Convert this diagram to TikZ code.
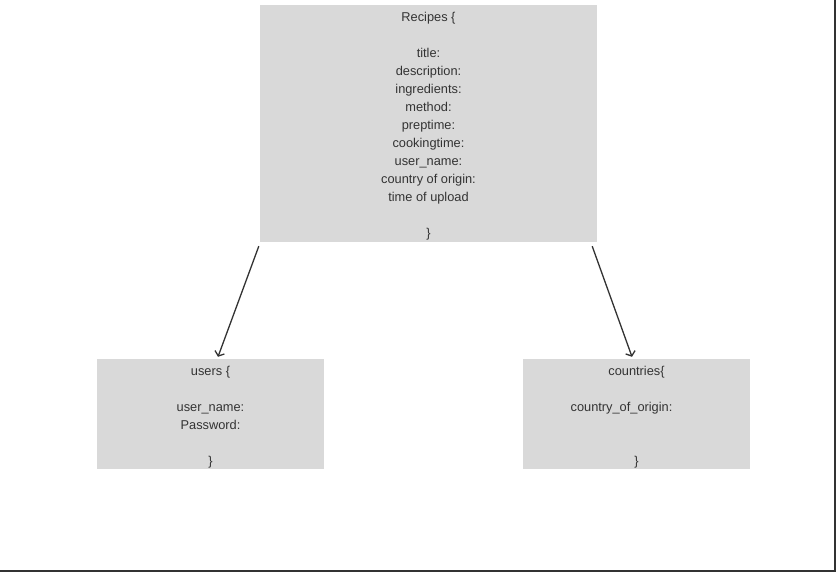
\documentclass[tikz,border=0pt]{standalone}
\usepackage{fontspec}
\setmainfont{Liberation Sans}
\usepackage{xcolor}
\usetikzlibrary{arrows.meta}

\definecolor{boxgray}{HTML}{D9D9D9}
\definecolor{inkgray}{HTML}{333333}

% raises the first row so the text sits a little lower in its box
\newcommand{\toprow}{\rule{0pt}{15pt}}

\tikzset{
	tablebox/.style={fill=boxgray, inner sep=0pt, align=center, text=inkgray,
		font=\fontsize{12.8}{18}\selectfont},
	link/.style={draw=inkgray, line width=1.3pt, -{Straight Barb[length=4pt,width=10pt]}}
}

\begin{document}
\begin{tikzpicture}[x=1pt,y=-1pt]
		\useasboundingbox (0,0) rectangle (836,572);
		\fill[white] (0,0) rectangle (836,572);
		\draw[inkgray, line width=2pt] (835,0) -- (835,571) -- (0,571);

		% main table
		\node[tablebox, minimum width=337pt, minimum height=237pt] (recipes) at (428.5,123.5) {\toprow Recipes \{\\ \mbox{}\\
					title:\\ description:\\ ingredients:\\ method:\\ preptime:\\ cookingtime:\\
					user\_name:\\ country of origin:\\ time of upload\\ \mbox{}\\ \}};

		% linked tables
		\node[tablebox, minimum width=227pt, minimum height=110pt] (users) at (210.5,414) {\toprow users \{\\ \mbox{}\\
					user\_name:\\ Password:\\ \mbox{}\\ \}};
		\node[tablebox, minimum width=227pt, minimum height=110pt] (countries) at (636.5,414) {\toprow countries\{\\ \mbox{}\\
					country\_of\_origin:\rule{30pt}{0pt}\\ \mbox{}\\ \mbox{}\\ \}};

		\draw[link] ([xshift=-1pt,yshift=-4pt]recipes.south west) -- ([xshift=7.5pt,yshift=2pt]users.north);
		\draw[link] ([xshift=-5pt,yshift=-4pt]recipes.south east) -- ([xshift=-4.5pt,yshift=2pt]countries.north);

	\end{tikzpicture}
\end{document}
